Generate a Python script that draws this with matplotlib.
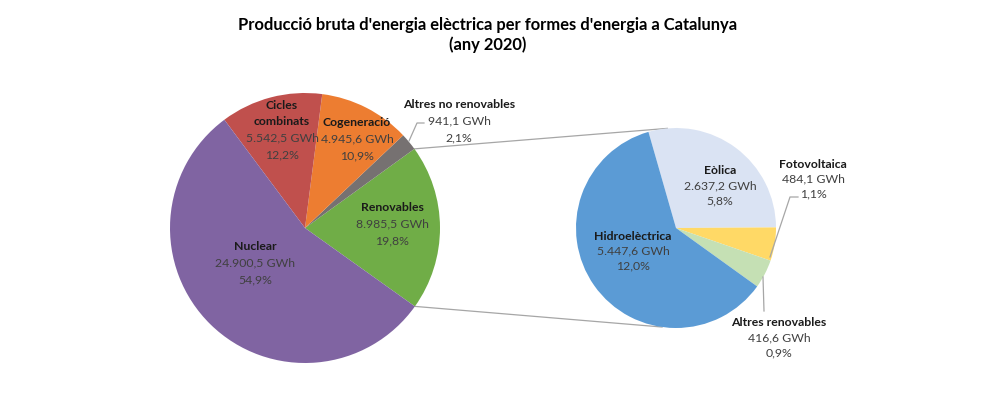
import numpy as np
import matplotlib
matplotlib.use("Agg")
import matplotlib.pyplot as plt

plt.rcParams['font.family'] = ['Lato', 'DejaVu Sans']

# main pie data (GWh), counter-clockwise from the Renovables wedge
main_names = ["Renovables", "Altres no renovables", "Cogeneració", "Cicles\ncombinats", "Nuclear"]
main_values = [8985.5, 941.1, 4945.6, 5542.5, 24900.5]
main_colors = ["#70AD47", "#767171", "#ED7D31", "#C0504D", "#8064A2"]

# breakdown of Renovables, clockwise from Eòlica
sub_names = ["Eòlica", "Fotovoltaica", "Altres renovables", "Hidroelèctrica"]
sub_values = [2637.2, 484.1, 416.6, 5447.6]
sub_colors = ["#DAE3F3", "#FFD966", "#C5E0B4", "#5B9BD5"]

title = "Producció bruta d'energia elèctrica per formes d'energia a Catalunya\n(any 2020)"

W, H = 1000, 396
total = sum(main_values)


def fmt_gwh(v):
    s = f"{v:,.1f}".replace(",", "X").replace(".", ",").replace("X", ".")
    return s + " GWh"


def fmt_pct(v):
    return f"{100 * v / total:.1f}".replace(".", ",") + "%"


def py(y):
    # pixel row -> data y
    return H - y


def label(ax, x, y, name, value, step=16.5, size=8.8):
    lines = name.split("\n")
    n = len(lines) + 2
    y0 = y - step * (n - 1) / 2
    for i, ln in enumerate(lines):
        ax.text(x, py(y0 + i * step), ln, ha='center', va='center', fontsize=size,
                fontweight='bold', color='#1a1a1a')
    k = len(lines)
    ax.text(x, py(y0 + k * step), fmt_gwh(value), ha='center', va='center',
            fontsize=size, color='#404040')
    ax.text(x, py(y0 + (k + 1) * step), fmt_pct(value), ha='center', va='center',
            fontsize=size, color='#404040')


fig = plt.figure(figsize=(W / 100, H / 100), dpi=100)
ax = fig.add_axes([0, 0, 1, 1])

c1, r1 = (305, py(228)), 135
c2, r2 = (676, py(228)), 100

w1, _ = ax.pie(main_values, colors=main_colors, center=c1, radius=r1,
               startangle=-35.5, counterclock=True, wedgeprops=dict(linewidth=0))
w2, _ = ax.pie(sub_values, colors=sub_colors, center=c2, radius=r2,
               startangle=106, counterclock=False, wedgeprops=dict(linewidth=0))

ax.set_xlim(0, W)
ax.set_ylim(0, H)
ax.set_aspect('auto')
ax.axis('off')

# connector lines from the Renovables wedge to the secondary pie
a_top, a_bot = np.radians(w1[0].theta2), np.radians(w1[0].theta1)
b_top, b_bot = np.radians(95), np.radians(262)
for a, b in [(a_top, b_top), (a_bot, b_bot)]:
    ax.plot([c1[0] + r1 * np.cos(a), c2[0] + r2 * np.cos(b)],
            [c1[1] + r1 * np.sin(a), c2[1] + r2 * np.sin(b)],
            color='#A6A6A6', lw=0.9, zorder=0)

# labels of the main pie
label(ax, 282, 130, main_names[3], main_values[3])
label(ax, 357, 139, main_names[2], main_values[2])
label(ax, 392, 224, main_names[0], main_values[0])
label(ax, 255, 263, main_names[4], main_values[4])
label(ax, 459, 121, main_names[1], main_values[1])
ax.plot([409, 417, 424], [py(141), py(123), py(123)], color='#A6A6A6', lw=0.9)

# labels of the secondary pie
label(ax, 720, 186, sub_names[0], sub_values[0], step=15)
label(ax, 633, 251, sub_names[3], sub_values[3], step=15)
label(ax, 813, 179, sub_names[1], sub_values[1], step=15)
label(ax, 779, 338, sub_names[2], sub_values[2], step=15)
ax.plot([770, 790, 798], [py(257), py(197), py(197)], color='#A6A6A6', lw=0.9)
ax.plot([763, 764], [py(277), py(311)], color='#A6A6A6', lw=0.9)

ax.text(488, py(35), title, ha='center', va='center', fontsize=11.9,
        fontweight='bold', color='#000000', linespacing=1.3)

fig.savefig("out.png", dpi=100)
